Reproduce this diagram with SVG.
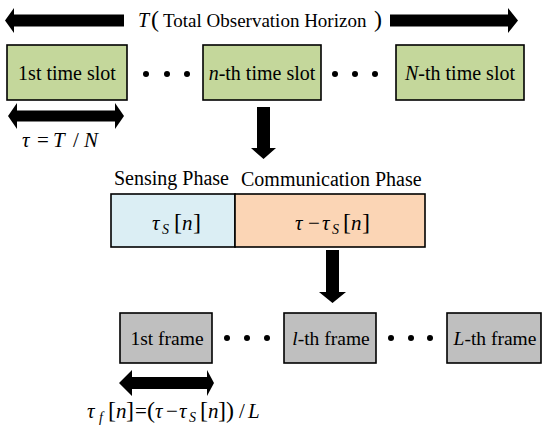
<svg xmlns="http://www.w3.org/2000/svg" width="550" height="431" viewBox="0 0 550 431">
<style>
text{font-family:"Liberation Serif","Times New Roman",serif;font-size:20px;fill:#000}
.i{font-style:italic}
.sub{font-style:italic;font-size:14px}
.br{font-size:24px}
.m{font-size:21px}
.fr{font-size:19.5px}
.box{stroke:#000;stroke-width:1.6}
.g{fill:#C4D79B}
.gr{fill:#BFBFBF}
.b{fill:#DBEEF4}
.o{fill:#FBD5B5}
.arr{fill:#000}
</style>
<rect width="550" height="431" fill="#fff"/>
<g id="connectors">
  <polygon class="arr" points="5,20.5 14,8 14,14.5 124,14.5 124,26.5 14,26.5 14,33"/>
  <polygon class="arr" points="518,20.5 508,8 508,14.5 390,14.5 390,26.5 508,26.5 508,33"/>
  <polygon class="arr" points="8,116 17,103 17,110.5 115,110.5 115,121.5 17,121.5 17,129"/>
  <polygon class="arr" points="124,116 115,103 115,129"/>
  <polygon class="arr" points="119,383 132,370 132,377 207,377 207,389 132,389 132,396"/>
  <polygon class="arr" points="214,383 207,370 207,396"/>
  <polygon class="arr" points="257,107 270,107 270,148 276,148 263.5,159 251,148 257,148"/>
  <polygon class="arr" points="326,250 339,250 339,292 346,292 332.5,303 319,292 326,292"/>
</g>
<g id="title">
  <text y="27"><tspan class="i" x="138">T</tspan><tspan class="br" x="151">(</tspan><tspan x="163" font-size="19">Total Observation Horizon</tspan><tspan class="br" x="374">)</tspan></text>
</g>
<g id="slot1"><rect class="box g" x="7" y="45" width="120" height="55"/><text x="67" y="80" text-anchor="middle">1st time slot</text></g>
<g id="slotn"><rect class="box g" x="203" y="45" width="118" height="55"/><text x="262" y="80" text-anchor="middle"><tspan class="i">n</tspan>-th time slot</text></g>
<g id="slotN"><rect class="box g" x="396" y="45" width="128" height="55"/><text x="460" y="80" text-anchor="middle"><tspan class="i">N</tspan>-th time slot</text></g>
<g id="dots1" fill="#000"><circle cx="146" cy="74" r="3"/><circle cx="167" cy="74" r="3"/><circle cx="187" cy="74" r="3"/><circle cx="335" cy="74" r="3"/><circle cx="355" cy="74" r="3"/><circle cx="375" cy="74" r="3"/></g>
<g id="tau">
  <text class="m" y="147"><tspan class="i" x="22">τ</tspan><tspan x="37">=</tspan><tspan class="i" x="53">T</tspan><tspan x="73">/</tspan><tspan class="i" x="84">N</tspan></text>
</g>
<g id="sensing">
  <text x="114" y="185">Sensing Phase</text>
  <rect class="box b" x="111" y="194" width="124" height="53"/>
  <text class="m" y="230"><tspan class="i" x="152">τ</tspan><tspan class="sub" x="162" dy="4">S</tspan><tspan class="br" x="174" dy="-4">[</tspan><tspan class="i" x="182">n</tspan><tspan class="br" x="193">]</tspan></text>
</g>
<g id="communication">
  <text x="241" y="186">Communication Phase</text>
  <rect class="box o" x="235" y="194" width="190" height="53"/>
  <text class="m" y="230"><tspan class="i" x="295">τ</tspan><tspan x="308">−</tspan><tspan class="i" x="322">τ</tspan><tspan class="sub" x="332" dy="4">S</tspan><tspan class="br" x="343" dy="-4">[</tspan><tspan class="i" x="351">n</tspan><tspan class="br" x="362">]</tspan></text>
</g>
<g id="frame1"><rect class="box gr" x="120" y="313" width="92" height="50"/><text class="fr" x="167" y="345" text-anchor="middle">1st frame</text></g>
<g id="framel"><rect class="box gr" x="284" y="313" width="92" height="50"/><text class="fr" x="331" y="345" text-anchor="middle"><tspan class="i">l</tspan>-th frame</text></g>
<g id="frameL"><rect class="box gr" x="447" y="313" width="94" height="50"/><text class="fr" x="495" y="345" text-anchor="middle"><tspan class="i">L</tspan>-th frame</text></g>
<g id="dots2" fill="#000"><circle cx="227" cy="338" r="3"/><circle cx="247" cy="338" r="3"/><circle cx="267" cy="338" r="3"/><circle cx="391" cy="338" r="3"/><circle cx="411" cy="338" r="3"/><circle cx="430" cy="338" r="3"/></g>
<g id="frameformula">
  <text class="m" y="418"><tspan class="i" x="87">τ</tspan><tspan class="sub" x="99" dy="4">f</tspan><tspan class="br" x="108" dy="-4">[</tspan><tspan class="i" x="116">n</tspan><tspan class="br" x="126">]</tspan><tspan x="135">=</tspan><tspan class="br" x="147">(</tspan><tspan class="i" x="155">τ</tspan><tspan x="166">−</tspan><tspan class="i" x="179">τ</tspan><tspan class="sub" x="189" dy="4">S</tspan><tspan class="br" x="200" dy="-4">[</tspan><tspan class="i" x="208">n</tspan><tspan class="br" x="218">]</tspan><tspan class="br" x="226">)</tspan><tspan x="239">/</tspan><tspan class="i" x="248">L</tspan></text>
</g>
</svg>
